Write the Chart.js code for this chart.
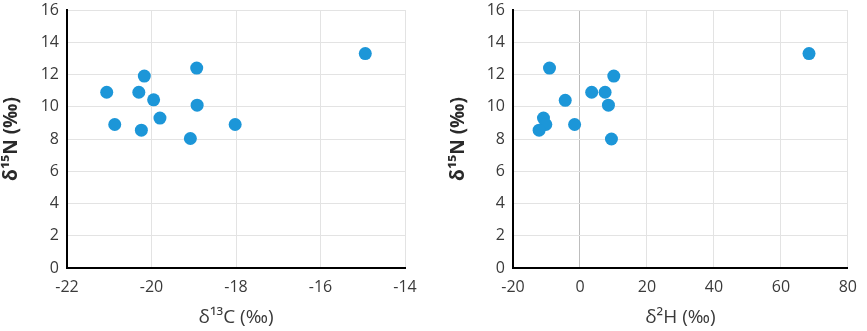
<!DOCTYPE html>
<html><head><meta charset="utf-8">
<script src="https://cdn.jsdelivr.net/npm/chart.js@4/dist/chart.umd.min.js"></script>
<style>
html,body{margin:0;padding:0;background:#fff;}
#a{position:absolute;left:0;top:0;}
#b{position:absolute;left:430px;top:0;}
</style></head>
<body>
<canvas id="a" width="430" height="331"></canvas>
<canvas id="b" width="437" height="331"></canvas>
<script>
const c13 = [-21.06, -20.87, -20.17, -20.30, -20.24, -19.95, -19.80, -18.93, -18.92, -19.08, -18.02, -14.94];
const n15C = [10.9, 8.9, 11.9, 10.9, 8.55, 10.43, 9.3, 12.4, 10.1, 8.03, 8.9, 13.3];
const h2 = [-9.1, 10.1, 3.5, 7.5, -4.4, 8.5, -10.9, -10.2, -12.2, -1.6, 9.4, 68.4];
const n15H = [12.4, 11.9, 10.9, 10.9, 10.4, 10.1, 9.3, 8.9, 8.55, 8.9, 8.0, 13.3];
const yTitle = 'δ¹⁵N (‰)';
const xTitleC = 'δ¹³C (‰)';
const xTitleH = 'δ²H (‰)';

const FONT = '"Open Sans", "Liberation Sans", sans-serif';
const tickColor = '#3a3a3a';
const pointColor = '#1c96d8';

function makeChart(id, xs, ys, xmin, xmax, xstep, xTitle, yWidth, yTitlePad, padRight) {
  const data = xs.map((x, i) => ({x: x, y: ys[i]}));
  return new Chart(document.getElementById(id), {
    type: 'scatter',
    data: {datasets: [{data: data, backgroundColor: pointColor, borderWidth: 0, pointRadius: 6.5, pointHoverRadius: 6.5}]},
    options: {
      responsive: false, animation: false, devicePixelRatio: 1,
      layout: {padding: {top: 0, right: padRight, bottom: 0, left: 0}},
      plugins: {legend: {display: false}, tooltip: {enabled: false}},
      scales: {
        x: {
          type: 'linear', min: xmin, max: xmax,
          ticks: {stepSize: xstep, color: tickColor, font: {family: FONT, size: 16}, padding: 10, maxRotation: 0},
          grid: {color: (c) => (c.tick && c.tick.value === 0) ? '#bdbdbd' : '#e3e3e3', lineWidth: 1, drawTicks: false},
          border: {color: '#000', width: 2},
          title: {display: true, text: xTitle, color: tickColor, font: {family: FONT, size: 19}, padding: {top: 0, bottom: 2}},
          afterFit: (s) => { s.height = 63; }
        },
        y: {
          type: 'linear', min: 0, max: 16,
          ticks: {stepSize: 2, color: tickColor, font: {family: FONT, size: 16}, padding: 8},
          grid: {color: '#e3e3e3', lineWidth: 1, drawTicks: false},
          border: {color: '#000', width: 2},
          title: {display: true, text: yTitle, color: '#2a2a2a', font: {family: FONT, size: 19, weight: 'bold'}, padding: {top: yTitlePad, bottom: 0}},
          afterFit: (s) => { s.width = yWidth; s.paddingTop = 10; s.paddingBottom = 0; }
        }
      }
    }
  });
}

makeChart('a', c13, n15C, -22, -14, 2, xTitleC, 67, 0, 25);
makeChart('b', h2, n15H, -20, 80, 20, xTitleH, 83, 17, 13);
</script>
</body></html>
